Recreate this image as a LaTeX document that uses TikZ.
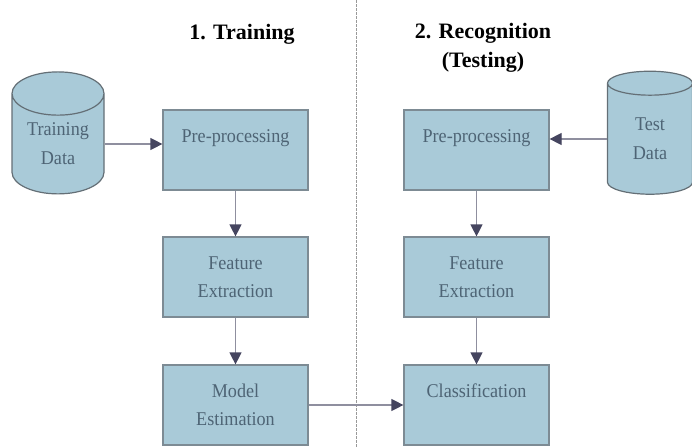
\documentclass[tikz,border=0pt]{standalone}
\usepackage{fontspec}
\setmainfont{Liberation Serif}
\newfontfamily\narrowserif[FakeStretch=0.93]{Liberation Serif}
\usetikzlibrary{arrows.meta,positioning,shapes.geometric}
\definecolor{boxfill}{HTML}{A9CAD8}
\definecolor{boxline}{HTML}{7D8B94}
\definecolor{boxtext}{HTML}{4E6475}
\definecolor{arrowc}{HTML}{45455F}
\tikzset{%
   stage/.style={rectangle, draw=boxline, line width=1.2pt, fill=boxfill, minimum width=145pt, minimum height=80pt,
     text=boxtext, align=center, inner sep=0pt, font=\narrowserif\fontsize{19.5}{28}\selectfont},
   store/.style={cylinder, shape border rotate=90, aspect=0.7, draw=boxline!80!black, line width=1.2pt, fill=boxfill,
     text=boxtext, align=center, inner sep=0pt, font=\narrowserif\fontsize{19.5}{29}\selectfont},
   flow/.style={draw=arrowc!60, line width=1.2pt, -{Triangle[length=12pt, width=12pt, color=arrowc]}},
   phase/.style={align=center, font=\fontsize{22}{29}\selectfont\bfseries},
   divider/.style={draw=gray!80, line width=1pt, dash pattern=on 2.5pt off 1.5pt},
}

\begin{document}
\begin{tikzpicture}[x=1pt, y=-1pt]
   \useasboundingbox (0,0) rectangle (692,447);
   \node[phase] (t1) at (242,34) {1. Training};
   \node[phase] (t2) at (483,48) {2. Recognition\\(Testing)};
   \coordinate (dtop) at (356,0);
   \coordinate (dbot) at (356,447);
   \path[divider] (dtop) -- (dbot);
   \node[store, minimum width=92pt, minimum height=122pt] (trdata) at (58,144) {Training\\Data};
   \node[store, minimum width=85pt, minimum height=123pt] (tsdata) at (650,139) {Test\\Data};
   \node[stage] (pre1) at (235.5,150) {Pre-processing\\ \mbox{}};
   \node[stage] (fe1) at (235.5,277) {Feature\\Extraction};
   \node[stage] (me) at (235.5,405) {Model\\Estimation};
   \node[stage] (pre2) at (476.5,150) {Pre-processing\\ \mbox{}};
   \node[stage] (fe2) at (476.5,277) {Feature\\Extraction};
   \node[stage] (cls) at (476.5,405) {Classification\\ \mbox{}};
   \path[flow] (trdata.east) -- (trdata.east -| pre1.west);
   \path[flow] (tsdata.west) -- (tsdata.west -| pre2.east);
   \path[flow] (pre1) -- (fe1);
   \path[flow] (fe1) -- (me);
   \path[flow] (pre2) -- (fe2);
   \path[flow] (fe2) -- (cls);
   \path[flow] (me) -- (cls);
\end{tikzpicture}
\end{document}
